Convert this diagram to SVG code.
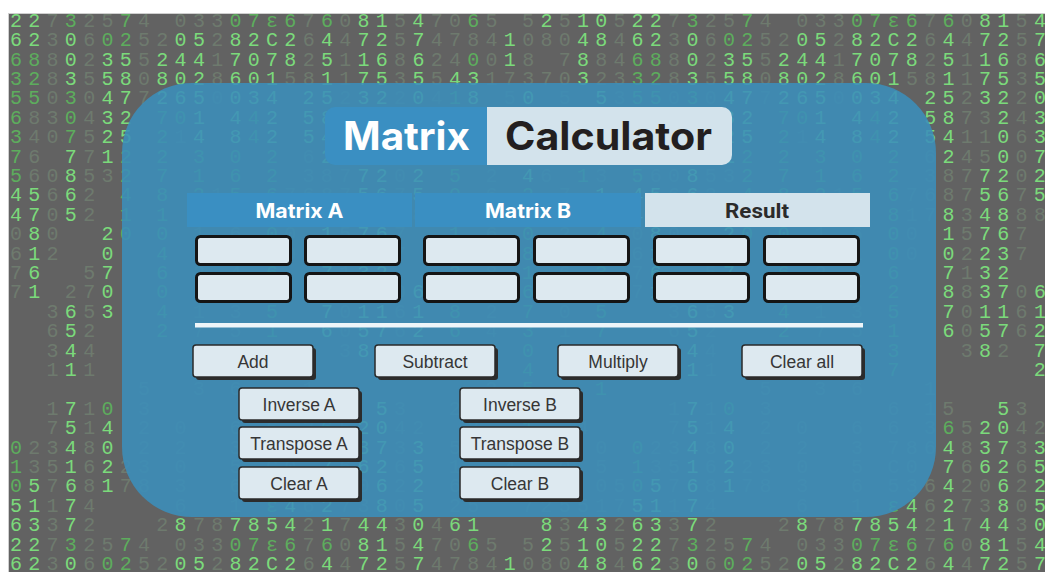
<svg xmlns="http://www.w3.org/2000/svg" xmlns:xlink="http://www.w3.org/1999/xlink" width="1045" height="572" viewBox="0 0 1045 572">
<style>
.rain text{font-family:"Liberation Mono","DejaVu Sans Mono",monospace;font-size:20px;letter-spacing:6.28px;white-space:pre}
.b{fill:#7bda7b}.m{fill:#5dad5d}.d{fill:#6e7a6e}
.cell{fill:#dde9f0;stroke:#151515;stroke-width:3}
.face{fill:#dde9f0;stroke:#2a2a2a;stroke-width:1.5}
.shadow{fill:#2c2c2c}
.btn text{font-family:"Liberation Sans",Arial,sans-serif;font-size:17.5px;fill:#363636;text-anchor:middle}
.hdr{font-family:Inter,"Noto Sans",sans-serif;font-weight:700;font-size:20px;text-anchor:middle}
.ttl{font-family:Inter,"Noto Sans",sans-serif;font-weight:700;font-size:39px}
</style>
<defs>
<g id="tile" class="rain" xml:space="preserve" transform="translate(-0.3,0.4)">
<text x="10.3" y="26.35"><tspan class="b">22</tspan><tspan class="d">7</tspan><tspan class="m">3</tspan><tspan class="d">25</tspan><tspan class="m">7</tspan><tspan class="d">4 033</tspan><tspan class="m">07ε6</tspan><tspan class="d">7</tspan><tspan class="m">6</tspan><tspan class="d">0</tspan><tspan class="b">81</tspan><tspan class="d">5</tspan><tspan class="b">4</tspan><tspan class="d">70</tspan><tspan class="m">6</tspan><tspan class="d">5 5</tspan><tspan class="b">2</tspan><tspan class="d">5</tspan><tspan class="b">10</tspan><tspan class="d">5</tspan></text>
<text x="10.3" y="45.75"><tspan class="b">62</tspan><tspan class="d">3</tspan><tspan class="b">0</tspan><tspan class="d">6</tspan><tspan class="m">02</tspan><tspan class="d">52</tspan><tspan class="b">05</tspan><tspan class="d">2</tspan><tspan class="b">82C2</tspan><tspan class="d">6</tspan><tspan class="b">4</tspan><tspan class="d">4</tspan><tspan class="b">72</tspan><tspan class="d">5</tspan><tspan class="b">7</tspan><tspan class="d">4784</tspan><tspan class="b">1</tspan><tspan class="d">080</tspan><tspan class="b">48</tspan><tspan class="d">4</tspan></text>
<text x="10.3" y="65.15"><tspan class="m">68</tspan><tspan class="d">8</tspan><tspan class="b">0</tspan><tspan class="d">2</tspan><tspan class="b">35</tspan><tspan class="d">5</tspan><tspan class="b">244</tspan><tspan class="d">1</tspan><tspan class="b">7078</tspan><tspan class="d">2</tspan><tspan class="b">5</tspan><tspan class="d">1</tspan><tspan class="b">16</tspan><tspan class="d">8</tspan><tspan class="b">6</tspan><tspan class="d">24</tspan><tspan class="m">0</tspan><tspan class="d">0</tspan><tspan class="b">1</tspan><tspan class="d">8 7</tspan><tspan class="b">8</tspan><tspan class="d">84</tspan></text>
<text x="10.3" y="84.55"><tspan class="m">32</tspan><tspan class="d">8</tspan><tspan class="b">3</tspan><tspan class="d">5</tspan><tspan class="b">58</tspan><tspan class="d">0</tspan><tspan class="b">802</tspan><tspan class="d">8</tspan><tspan class="b">601</tspan><tspan class="d">58</tspan><tspan class="b">1</tspan><tspan class="d">1</tspan><tspan class="b">75</tspan><tspan class="d">3</tspan><tspan class="b">5</tspan><tspan class="d">5</tspan><tspan class="b">43</tspan><tspan class="d">17370</tspan><tspan class="b">3</tspan><tspan class="d">23</tspan></text>
<text x="10.3" y="103.95"><tspan class="m">55</tspan><tspan class="d">0</tspan><tspan class="m">3</tspan><tspan class="d">0</tspan><tspan class="b">47</tspan><tspan class="d">7</tspan><tspan class="b">265</tspan><tspan class="d">0</tspan><tspan class="b">034 25</tspan><tspan class="d">2</tspan><tspan class="b">32</tspan><tspan class="d">2</tspan><tspan class="b">0</tspan><tspan class="d">4</tspan><tspan class="m">1</tspan><tspan class="b">8 </tspan><tspan class="d">5</tspan><tspan class="b">0 </tspan><tspan class="d">5 </tspan><tspan class="b">5</tspan><tspan class="d">3</tspan></text>
<text x="10.3" y="123.35"><tspan class="m">6</tspan><tspan class="d">83</tspan><tspan class="m">0</tspan><tspan class="d">4</tspan><tspan class="b">32 </tspan><tspan class="m">70</tspan><tspan class="b">1 4</tspan><tspan class="m">4</tspan><tspan class="b">2 58</tspan><tspan class="d">73</tspan><tspan class="b">2</tspan><tspan class="d">4</tspan><tspan class="b">3 </tspan><tspan class="m">6</tspan><tspan class="d">21 </tspan><tspan class="b">1</tspan><tspan class="d">4 </tspan><tspan class="m">6 </tspan><tspan class="d">2</tspan></text>
<text x="10.3" y="142.75"><tspan class="m">3</tspan><tspan class="d">40</tspan><tspan class="m">7</tspan><tspan class="d">5</tspan><tspan class="b">25 </tspan><tspan class="m">2</tspan><tspan class="d">1</tspan><tspan class="b">4 8</tspan><tspan class="m">4</tspan><tspan class="b">2 54</tspan><tspan class="d">11</tspan><tspan class="b">0</tspan><tspan class="d">6</tspan><tspan class="b">3 7 </tspan><tspan class="d">3</tspan><tspan class="m">4 </tspan><tspan class="b">0</tspan><tspan class="d">6 </tspan><tspan class="m">2 </tspan></text>
<text x="10.3" y="162.15"><tspan class="m">7</tspan><tspan class="d">6 </tspan><tspan class="b">7</tspan><tspan class="d">7</tspan><tspan class="b">1</tspan><tspan class="m">2 2 3 0 2 </tspan><tspan class="d">6</tspan><tspan class="b">2</tspan><tspan class="d">45</tspan><tspan class="b">0</tspan><tspan class="d">0</tspan><tspan class="b">7</tspan><tspan class="d">3 </tspan><tspan class="m">1 </tspan><tspan class="d">5</tspan><tspan class="b">8 </tspan><tspan class="d">4</tspan><tspan class="m">0 </tspan><tspan class="d">6</tspan></text>
<text x="10.3" y="181.55"><tspan class="m">5</tspan><tspan class="d">60</tspan><tspan class="b">8</tspan><tspan class="d">53</tspan><tspan class="m">2 7 1 6 2 </tspan><tspan class="d">387</tspan><tspan class="b">72</tspan><tspan class="d">0</tspan><tspan class="b">2 </tspan><tspan class="m">5 </tspan><tspan class="d">2 </tspan><tspan class="b">4</tspan><tspan class="d">6 </tspan><tspan class="m">1</tspan><tspan class="d">3 </tspan></text>
<text x="10.3" y="200.95"><tspan class="b">45</tspan><tspan class="d">6</tspan><tspan class="b">6</tspan><tspan class="d">2 </tspan><tspan class="m">4 8 2</tspan><tspan class="d">1</tspan><tspan class="m">5 6</tspan><tspan class="d">7687</tspan><tspan class="b">56</tspan><tspan class="d">7</tspan><tspan class="b">5 </tspan><tspan class="m">0 </tspan><tspan class="d">6 </tspan><tspan class="m">2 </tspan><tspan class="d">7 </tspan><tspan class="b">1 </tspan></text>
<text x="10.3" y="220.35"><tspan class="b">47</tspan><tspan class="d">0</tspan><tspan class="b">5</tspan><tspan class="d">2 </tspan><tspan class="m">1 1 </tspan><tspan class="d">0 </tspan><tspan class="m">3 8</tspan><tspan class="d">17</tspan><tspan class="b">8</tspan><tspan class="d">3</tspan><tspan class="b">48</tspan><tspan class="d">88 </tspan><tspan class="m">2 </tspan><tspan class="d">0 </tspan><tspan class="m">5 </tspan><tspan class="d">3 </tspan><tspan class="m">5 </tspan></text>
<text x="10.3" y="239.75"><tspan class="d">0</tspan><tspan class="b">8</tspan><tspan class="d">0  </tspan><tspan class="b">2</tspan><tspan class="m">0 0 </tspan><tspan class="d">1 6 </tspan><tspan class="m">0</tspan><tspan class="d">0 </tspan><tspan class="b">1</tspan><tspan class="d">5</tspan><tspan class="b">76</tspan><tspan class="d">7  </tspan><tspan class="m">1 </tspan><tspan class="d">6 </tspan><tspan class="m">0 </tspan><tspan class="d">2 </tspan><tspan class="m">4 </tspan></text>
<text x="10.3" y="259.15"><tspan class="d">6</tspan><tspan class="b">1</tspan><tspan class="d">2  </tspan><tspan class="b">0  </tspan><tspan class="m">4 </tspan><tspan class="d">6 1 </tspan><tspan class="m">0</tspan><tspan class="d">0 </tspan><tspan class="b">0</tspan><tspan class="d">2</tspan><tspan class="b">23</tspan><tspan class="d">7  </tspan><tspan class="m">5 </tspan><tspan class="d">3 </tspan><tspan class="m">8 </tspan><tspan class="d">1 </tspan><tspan class="m">0 </tspan></text>
<text x="10.3" y="278.55"><tspan class="d">7</tspan><tspan class="b">6  </tspan><tspan class="d">5</tspan><tspan class="b">7  </tspan><tspan class="m">6 </tspan><tspan class="d">2 4 </tspan><tspan class="m">6  </tspan><tspan class="b">7</tspan><tspan class="d">1</tspan><tspan class="b">32   </tspan><tspan class="m">3 </tspan><tspan class="d">8 </tspan><tspan class="m">1 </tspan><tspan class="d">6 </tspan><tspan class="m">3 </tspan></text>
<text x="10.3" y="297.95"><tspan class="d">7</tspan><tspan class="b">1 </tspan><tspan class="d">27</tspan><tspan class="b">0  </tspan><tspan class="m">0 </tspan><tspan class="d">5 7 </tspan><tspan class="m">2  </tspan><tspan class="b">8</tspan><tspan class="d">8</tspan><tspan class="b">37</tspan><tspan class="d">0</tspan><tspan class="b">6 </tspan><tspan class="m">4 </tspan><tspan class="d">0 </tspan><tspan class="m">6 </tspan><tspan class="d">5 </tspan><tspan class="m">8 </tspan></text>
<text x="10.3" y="317.35"><tspan class="d">  3</tspan><tspan class="b">6</tspan><tspan class="d">5</tspan><tspan class="b">3  </tspan><tspan class="m">4 </tspan><tspan class="d">1 3 </tspan><tspan class="m">5  </tspan><tspan class="b">7</tspan><tspan class="d">0</tspan><tspan class="b">11</tspan><tspan class="d">6</tspan><tspan class="b">1 </tspan><tspan class="m">8 </tspan><tspan class="d">2 </tspan><tspan class="m">7 </tspan><tspan class="d">0 </tspan><tspan class="m">5 </tspan></text>
<text x="10.3" y="336.75"><tspan class="d">  6</tspan><tspan class="b">5</tspan><tspan class="d">2   </tspan><tspan class="m">2 </tspan><tspan class="d">7 5 </tspan><tspan class="m">1  </tspan><tspan class="b">6</tspan><tspan class="d">0</tspan><tspan class="b">57</tspan><tspan class="d">6</tspan><tspan class="b">2 </tspan><tspan class="m">6 </tspan><tspan class="d">4 </tspan><tspan class="m">3 </tspan><tspan class="d">1 </tspan><tspan class="m">7 </tspan></text>
<text x="10.3" y="356.15"><tspan class="d">  3</tspan><tspan class="b">4</tspan><tspan class="d">4     4 0 </tspan><tspan class="m">3   </tspan><tspan class="d">3</tspan><tspan class="b">8</tspan><tspan class="d">2 </tspan><tspan class="b">7   </tspan><tspan class="d">5 </tspan><tspan class="m">0 </tspan><tspan class="d">4 </tspan><tspan class="m">2 </tspan></text>
<text x="10.3" y="375.55"><tspan class="d">  1</tspan><tspan class="b">1</tspan><tspan class="d">1     8 2 </tspan><tspan class="m">7       </tspan><tspan class="b">2   </tspan><tspan class="d">1 </tspan><tspan class="m">4 </tspan><tspan class="d">8 </tspan><tspan class="m">6 </tspan></text>
<text x="10.3" y="394.95"><tspan class="d">       5  3 6   1         2 </tspan><tspan class="m">5   1 </tspan></text>
<text x="10.3" y="414.35"><tspan class="d">  1</tspan><tspan class="b">7</tspan><tspan class="d">1</tspan><tspan class="m">0 </tspan><tspan class="d">3      6 15  </tspan><tspan class="b">5</tspan><tspan class="d">3  2 7   3   </tspan></text>
<text x="10.3" y="433.75"><tspan class="d">  7</tspan><tspan class="b">5</tspan><tspan class="d">1</tspan><tspan class="b">4 </tspan><tspan class="d">2 0  6 6 3</tspan><tspan class="m">6</tspan><tspan class="d">5</tspan><tspan class="b">20</tspan><tspan class="d">42  3  </tspan><tspan class="m">1  </tspan><tspan class="d">4  </tspan></text>
<text x="10.3" y="453.15"><tspan class="m">0</tspan><tspan class="d">23</tspan><tspan class="b">4</tspan><tspan class="d">8</tspan><tspan class="b">0 </tspan><tspan class="d">2 2  3 786</tspan><tspan class="b">4</tspan><tspan class="d">8</tspan><tspan class="b">37</tspan><tspan class="d">3</tspan><tspan class="b">3 </tspan><tspan class="d">5  </tspan><tspan class="m">2  </tspan><tspan class="d">6 0 </tspan></text>
<text x="10.3" y="472.55"><tspan class="m">1</tspan><tspan class="d">35</tspan><tspan class="b">1</tspan><tspan class="d">6</tspan><tspan class="b">2</tspan><tspan class="d">23 0  5 C0 </tspan><tspan class="b">7</tspan><tspan class="d">6</tspan><tspan class="b">62</tspan><tspan class="d">6</tspan><tspan class="b">5 </tspan><tspan class="d">1  4  0 5 </tspan></text>
<text x="10.3" y="491.95"><tspan class="m">0</tspan><tspan class="b">5</tspan><tspan class="d">7</tspan><tspan class="b">6</tspan><tspan class="d">8</tspan><tspan class="b">1</tspan><tspan class="d">78 3  6 536</tspan><tspan class="b">4</tspan><tspan class="d">20</tspan><tspan class="b">6</tspan><tspan class="d">2</tspan><tspan class="b">2</tspan><tspan class="d"> 6 20  4 05</tspan></text>
<text x="10.3" y="511.35"><tspan class="b">51</tspan><tspan class="d">1</tspan><tspan class="b">7</tspan><tspan class="d">4    6  1 </tspan><tspan class="m">ε</tspan><tspan class="b">4</tspan><tspan class="d">6</tspan><tspan class="b">2</tspan><tspan class="d">73</tspan><tspan class="b">8</tspan><tspan class="d">0</tspan><tspan class="b">5</tspan><tspan class="d"> 25  725517</tspan></text>
<text x="10.3" y="530.75"><tspan class="b">63</tspan><tspan class="d">3</tspan><tspan class="b">7</tspan><tspan class="d">2   2</tspan><tspan class="b">8</tspan><tspan class="d">78</tspan><tspan class="b">7854</tspan><tspan class="d">2</tspan><tspan class="b">1</tspan><tspan class="d">7</tspan><tspan class="b">44</tspan><tspan class="d">3</tspan><tspan class="b">0</tspan><tspan class="d">4</tspan><tspan class="b">61   8</tspan><tspan class="d">3</tspan><tspan class="b">43</tspan><tspan class="d">2</tspan></text>
</g>
</defs>
<g id="background">
<rect x="0" y="0" width="1045" height="572" fill="#626262"/>
<use xlink:href="#tile" href="#tile"/>
<use xlink:href="#tile" href="#tile" x="621.52"/>
<use xlink:href="#tile" href="#tile" y="523.8"/>
<use xlink:href="#tile" href="#tile" x="621.52" y="523.8"/>
<rect x="0" y="0" width="1045" height="13" fill="#ffffff"/>
<rect x="0" y="0" width="8" height="572" fill="#ffffff"/>
<line x1="8" y1="13.5" x2="1045" y2="13.5" stroke="#cfcfcf" stroke-width="1"/>
<line x1="8.5" y1="13" x2="8.5" y2="572" stroke="#cfcfcf" stroke-width="1"/>
</g>
<g id="panel">
<rect x="122" y="83" width="814" height="434" rx="70" fill="#3b8ebb" fill-opacity="0.88"/>
</g>
<g id="title">
<path d="M335 107 H487 V165 H335 A10 10 0 0 1 325 155 V117 A10 10 0 0 1 335 107 Z" fill="#3a8fc2"/>
<path d="M487 107 H722 A10 10 0 0 1 732 117 V155 A10 10 0 0 1 722 165 H487 Z" fill="#d3e3ec"/>
<text class="ttl" x="343" y="150" fill="#ffffff" textLength="127" lengthAdjust="spacingAndGlyphs">Matrix</text>
<text class="ttl" x="505" y="150" fill="#231f20" textLength="207" lengthAdjust="spacingAndGlyphs">Calculator</text>
</g>
<g id="header-a">
<rect x="187" y="193" width="225" height="34" fill="#3a8fc2"/>
<text class="hdr" x="299.5" y="217.5" fill="#ffffff" textLength="88" lengthAdjust="spacingAndGlyphs">Matrix A</text>
</g>
<g id="header-b">
<rect x="415" y="193" width="226" height="34" fill="#3a8fc2"/>
<text class="hdr" x="528" y="217.5" fill="#ffffff" textLength="86" lengthAdjust="spacingAndGlyphs">Matrix B</text>
</g>
<g id="header-result">
<rect x="645" y="193" width="225" height="34" fill="#d3e3ec"/>
<text x="757" y="217.5" fill="#2b2b2b" font-family="Roboto, 'Liberation Sans', sans-serif" font-weight="700" font-size="21" text-anchor="middle" textLength="64" lengthAdjust="spacingAndGlyphs">Result</text>
</g>
<g id="matrix-a-cells">
<rect class="cell" x="196.5" y="236.5" width="94" height="28" rx="4"/>
<rect class="cell" x="305.5" y="236.5" width="94" height="28" rx="4"/>
<rect class="cell" x="196.5" y="273.5" width="94" height="28" rx="4"/>
<rect class="cell" x="305.5" y="273.5" width="94" height="28" rx="4"/>
</g>
<g id="matrix-b-cells">
<rect class="cell" x="424.5" y="236.5" width="94" height="28" rx="4"/>
<rect class="cell" x="534.5" y="236.5" width="94" height="28" rx="4"/>
<rect class="cell" x="424.5" y="273.5" width="94" height="28" rx="4"/>
<rect class="cell" x="534.5" y="273.5" width="94" height="28" rx="4"/>
</g>
<g id="result-cells">
<rect class="cell" x="654.5" y="236.5" width="94" height="28" rx="4"/>
<rect class="cell" x="764.5" y="236.5" width="94" height="28" rx="4"/>
<rect class="cell" x="654.5" y="273.5" width="94" height="28" rx="4"/>
<rect class="cell" x="764.5" y="273.5" width="94" height="28" rx="4"/>
</g>
<g id="separator">
<rect x="195" y="323" width="668" height="4.5" fill="#eef5f9"/>
</g>
<g id="btn-add" class="btn"><rect class="shadow" x="196" y="348" width="120" height="32" rx="3"/><rect class="face" x="193" y="345" width="120" height="32" rx="3"/><text x="253" y="368">Add</text></g>
<g id="btn-subtract" class="btn"><rect class="shadow" x="378" y="348" width="120" height="32" rx="3"/><rect class="face" x="375" y="345" width="120" height="32" rx="3"/><text x="435" y="368">Subtract</text></g>
<g id="btn-multiply" class="btn"><rect class="shadow" x="561" y="348" width="120" height="32" rx="3"/><rect class="face" x="558" y="345" width="120" height="32" rx="3"/><text x="618" y="368">Multiply</text></g>
<g id="btn-clear-all" class="btn"><rect class="shadow" x="745" y="348" width="120" height="32" rx="3"/><rect class="face" x="742" y="345" width="120" height="32" rx="3"/><text x="802" y="368">Clear all</text></g>
<g id="btn-inverse-a" class="btn"><rect class="shadow" x="242" y="391" width="120" height="32" rx="3"/><rect class="face" x="239" y="388" width="120" height="32" rx="3"/><text x="299" y="411">Inverse A</text></g>
<g id="btn-transpose-a" class="btn"><rect class="shadow" x="242" y="430" width="120" height="32" rx="3"/><rect class="face" x="239" y="427" width="120" height="32" rx="3"/><text x="299" y="450">Transpose A</text></g>
<g id="btn-clear-a" class="btn"><rect class="shadow" x="242" y="470" width="120" height="32" rx="3"/><rect class="face" x="239" y="467" width="120" height="32" rx="3"/><text x="299" y="490">Clear A</text></g>
<g id="btn-inverse-b" class="btn"><rect class="shadow" x="463" y="391" width="120" height="32" rx="3"/><rect class="face" x="460" y="388" width="120" height="32" rx="3"/><text x="520" y="411">Inverse B</text></g>
<g id="btn-transpose-b" class="btn"><rect class="shadow" x="463" y="430" width="120" height="32" rx="3"/><rect class="face" x="460" y="427" width="120" height="32" rx="3"/><text x="520" y="450">Transpose B</text></g>
<g id="btn-clear-b" class="btn"><rect class="shadow" x="463" y="470" width="120" height="32" rx="3"/><rect class="face" x="460" y="467" width="120" height="32" rx="3"/><text x="520" y="490">Clear B</text></g>
<g id="connectors"/>
</svg>
